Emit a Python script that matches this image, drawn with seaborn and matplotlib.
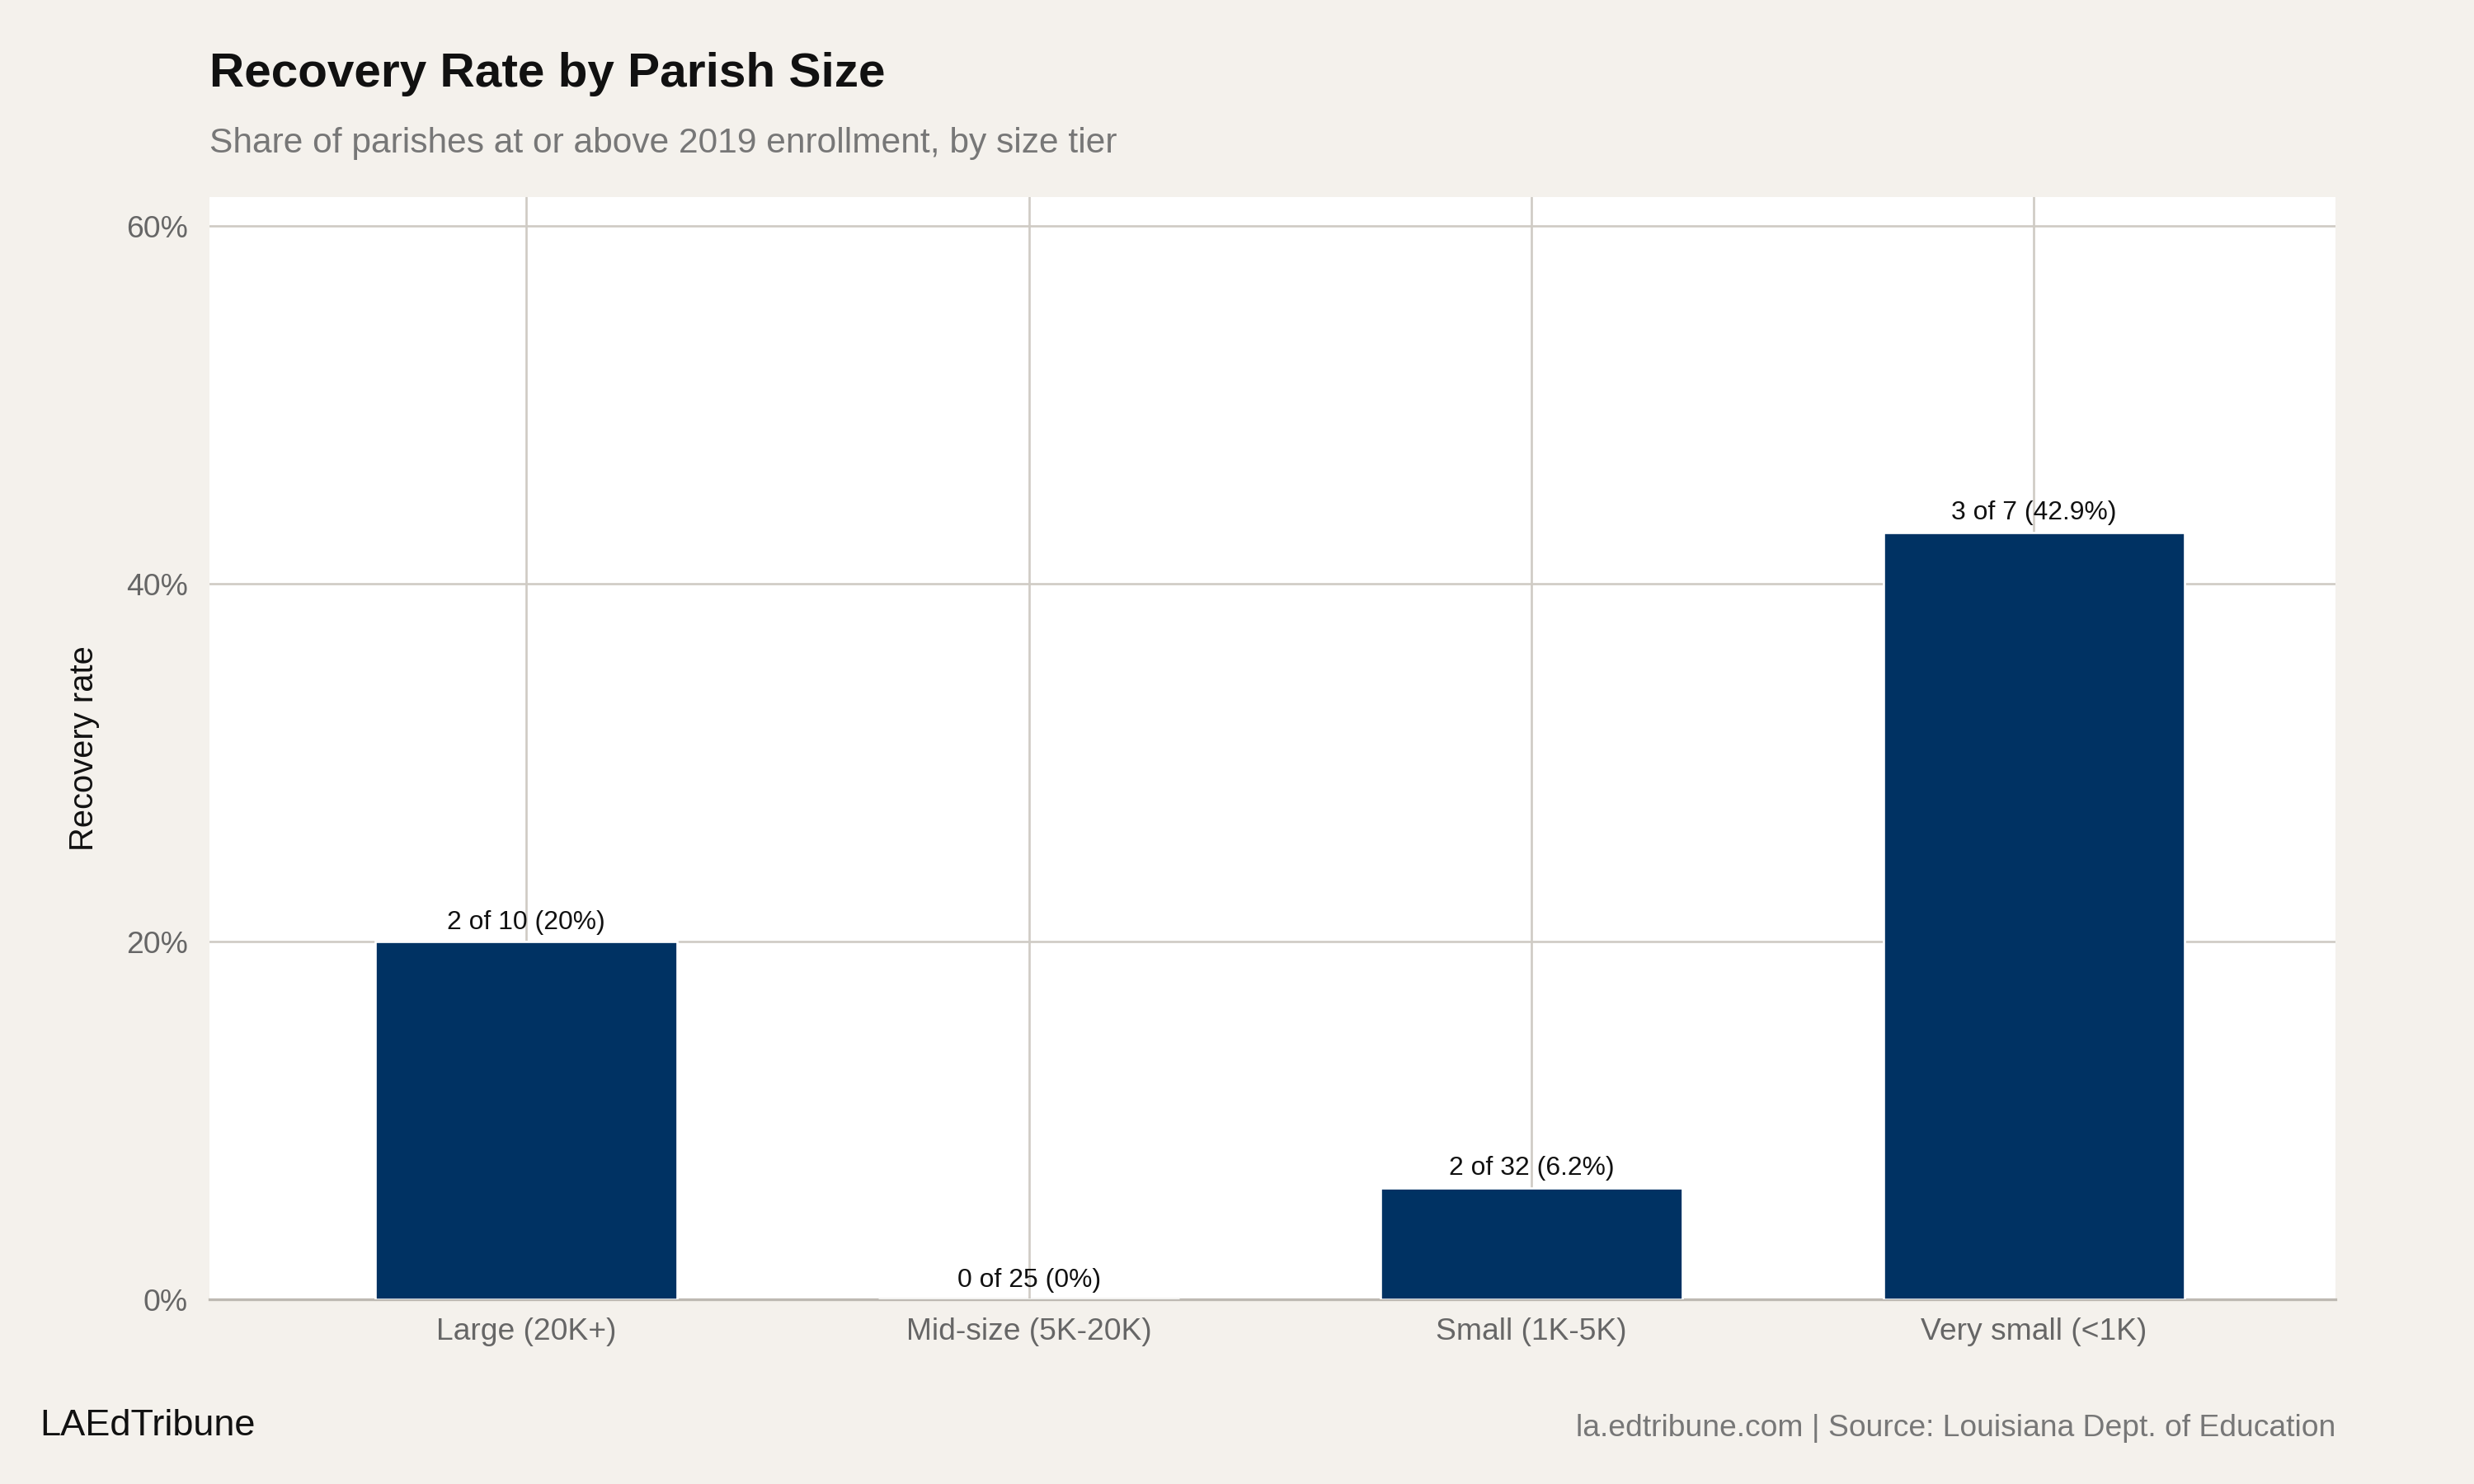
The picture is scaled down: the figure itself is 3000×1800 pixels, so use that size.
import matplotlib
matplotlib.use("Agg")
import matplotlib.pyplot as plt
import seaborn as sns
import pandas as pd

categories = ["Large (20K+)", "Mid-size (5K-20K)", "Small (1K-5K)", "Very small (<1K)"]
recovered = [2, 0, 2, 3]
totals = [10, 25, 32, 7]
rates = [0.20, 0.0, 0.0625, 0.4286]
labels = ["2 of 10 (20%)", "0 of 25 (0%)", "2 of 32 (6.2%)", "3 of 7 (42.9%)"]
yticks = [0, 0.2, 0.4, 0.6]
ytick_labels = ["0%", "20%", "40%", "60%"]

sns.set_theme(style="white")
plt.rcParams['font.family'] = ['Liberation Sans', 'DejaVu Sans']

bg = "#F4F1EC"
fig = plt.figure(figsize=(15.68, 9.41), dpi=3000/15.68, facecolor=bg)
ax = fig.add_axes([0.0848, 0.1243, 0.8592, 0.7428])
ax.set_facecolor("white")

df = pd.DataFrame({"cat": categories, "rate": rates})
sns.barplot(data=df, x="cat", y="rate", color="#003263", width=0.6, saturation=1, ax=ax, zorder=3)

for i, (r, lab) in enumerate(zip(rates, labels)):
    ax.text(i, r + 0.004, lab, ha="center", va="bottom", fontsize=12, color="#111111", zorder=4)

ax.set_ylim(0, 0.616)
ax.set_xlim(-0.63, 3.6)
ax.set_yticks(yticks)
ax.set_yticklabels(ytick_labels)
ax.grid(True, color="#CFCBC4", linewidth=1, zorder=0)
ax.set_axisbelow(True)
for s in ["top", "right", "left"]:
    ax.spines[s].set_visible(False)
ax.spines["bottom"].set_color("#BDB9B2")
ax.tick_params(axis="both", colors="#666666", labelsize=14, length=0, pad=8)
ax.tick_params(axis="y", length=6, color="#BDB9B2", pad=4)
ax.set_xlabel("")
ax.set_ylabel("Recovery rate", fontsize=15, color="#111111", labelpad=12)

fig.text(0.0848, 0.935, "Recovery Rate by Parish Size", fontsize=22, fontweight="bold", color="#111111", va="bottom")
fig.text(0.0848, 0.892, "Share of parishes at or above 2019 enrollment, by size tier", fontsize=16, color="#777777", va="bottom")
fig.text(0.016, 0.028, "LAEdTribune", fontsize=17, color="#111111", va="bottom")
fig.text(0.944, 0.028, "la.edtribune.com | Source: Louisiana Dept. of Education", fontsize=14, color="#777777", va="bottom", ha="right")

fig.savefig("out.png", dpi=3000/15.68, facecolor=bg)
